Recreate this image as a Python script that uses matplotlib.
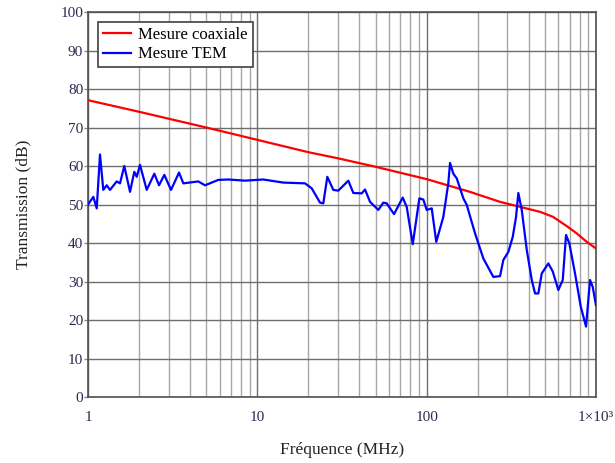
import numpy as np
import matplotlib
matplotlib.use('Agg')
import matplotlib.pyplot as plt
from matplotlib.ticker import FixedLocator, LogLocator, NullFormatter

# red curve: coaxial measurement
freq_coax = [1, 2, 5, 10, 20, 30, 50, 100, 180, 271, 356, 468, 558, 672, 770, 883, 1000]
db_coax = [77.1, 74.1, 70.0, 66.8, 63.6, 62.0, 59.8, 56.6, 53.3, 50.7, 49.4, 48.1, 46.8, 44.4, 42.5, 40.3, 38.6]

# blue curve: TEM measurement
freq_tem = [1.0, 1.075, 1.126, 1.177, 1.231, 1.29, 1.349, 1.477, 1.545, 1.638,
            1.771, 1.877, 1.94, 2.028, 2.222, 2.464, 2.627, 2.823, 3.092, 3.448,
            3.656, 4.482, 4.911, 5.885, 6.742, 8.458, 10.85, 14.24, 19.13, 20.96,
            23.46, 24.53, 25.91, 28.11, 30.09, 34.47, 36.9, 41.37, 43.27, 46.31,
            51.84, 55.5, 58.13, 64.2, 72.24, 76.27, 82.8, 90.6, 95.6, 100.1,
            107.2, 114.0, 125.5, 134.3, 137.5, 143.8, 150.6, 164.8, 172.6, 193.2,
            216.2, 247.7, 271.4, 283.9, 303.9, 322.6, 337.4, 348.1, 364.6, 390.4,
            417.8, 436.9, 456.9, 478.6, 523.6, 555.9, 599.8, 636.8, 665.9, 696.5,
            752.6, 813.3, 874.1, 922.9, 957.4, 1000]
db_tem = [50.0, 52.0, 49.0, 63.0, 53.8, 55.0, 53.8, 56.0, 55.5, 60.0,
          53.3, 58.5, 57.2, 60.3, 53.8, 58.0, 55.0, 57.7, 53.8, 58.3,
          55.5, 56.0, 55.0, 56.4, 56.5, 56.2, 56.5, 55.7, 55.5, 54.2,
          50.5, 50.3, 57.2, 53.8, 53.6, 56.2, 53.0, 52.9, 53.9, 50.7,
          48.6, 50.5, 50.3, 47.5, 51.8, 49.4, 39.7, 51.6, 51.3, 48.6,
          49.0, 40.3, 46.8, 55.5, 60.8, 58.0, 56.8, 51.6, 49.9, 42.5,
          36.0, 31.2, 31.4, 35.6, 37.7, 41.6, 46.8, 53.0, 48.6, 38.2,
          30.4, 26.9, 26.9, 32.1, 34.7, 32.6, 27.8, 30.4, 42.1, 39.9,
          32.1, 23.5, 18.3, 30.4, 28.6, 23.9]

x_ticks = [1, 10, 100, 1000]
x_ticklabels = ['1', '10', '100', '1×10³']
y_ticks = list(range(0, 101, 10))

plt.rcParams['font.family'] = ['Liberation Serif', 'DejaVu Serif']

fig = plt.figure(figsize=(6.15, 4.63), dpi=100)
ax = fig.add_axes([0.1431, 0.1425, 0.8259, 0.8315])

ax.plot(freq_coax, db_coax, color='#ff0000', lw=1.6, label='Mesure coaxiale', zorder=3)
ax.plot(freq_tem, db_tem, color='#0000ff', lw=1.6, label='Mesure TEM', zorder=4)

ax.set_xscale('log')
ax.set_xlim(1, 1000)
ax.set_ylim(0, 100)
ax.xaxis.set_major_locator(FixedLocator(x_ticks))
ax.set_xticklabels(x_ticklabels)
ax.xaxis.set_minor_locator(LogLocator(base=10, subs=np.arange(2, 10)))
ax.xaxis.set_minor_formatter(NullFormatter())
ax.set_yticks(y_ticks)

ax.grid(which='major', color='#6e6e6e', lw=1.0)
ax.grid(which='minor', axis='x', color='#a8a8a8', lw=1.0)
ax.set_axisbelow(True)

tick_col = '#2a2a50'
lab_col = '#222222'
ax.tick_params(axis='y', which='major', labelsize=11, colors='#8a8a8a',
               labelcolor=tick_col, length=3, width=1.0, pad=0.5, direction='out')
ax.tick_params(axis='x', which='major', labelsize=11, labelcolor=tick_col,
               length=0, pad=10)
ax.tick_params(axis='x', which='minor', length=0)
for s in ax.spines.values():
    s.set_color('#505050')
    s.set_linewidth(1.2)

ax.set_xlabel('Fréquence (MHz)', fontsize=12.5, color=lab_col, labelpad=13)
ax.set_ylabel('Transmission (dB)', fontsize=12.5, color=lab_col, labelpad=21)

leg = ax.legend(loc='upper left', fontsize=12, fancybox=False, framealpha=1,
                edgecolor='#404040', borderaxespad=0.6, handlelength=1.7,
                borderpad=0.3, labelspacing=0.2, handletextpad=0.4)
leg.get_frame().set_linewidth(1.2)

fig.savefig('out.png', dpi=100)
